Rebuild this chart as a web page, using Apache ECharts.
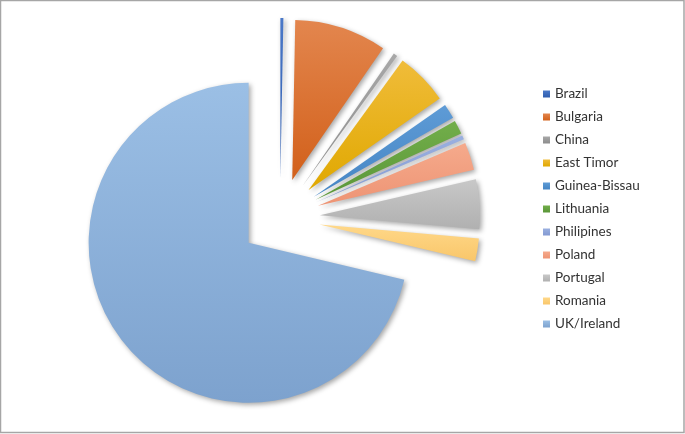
<!DOCTYPE html>
<html>
<head>
<meta charset="utf-8">
<script src="https://cdn.jsdelivr.net/npm/echarts@6/dist/echarts.min.js"></script>
<style>
html,body{margin:0;padding:0;background:#fff;}
#chart{width:685px;height:434px;}
</style>
</head>
<body>
<div id="chart"></div>
<script>
const categories = ['Brazil','Bulgaria','China','East Timor','Guinea-Bissau','Lithuania','Philipines','Poland','Portugal','Romania','UK/Ireland'];
const shares = [0.3, 9.3, 0.4, 5.3, 1.5, 1.4, 0.4, 2.8, 5.0, 2.3, 71.3];
const topColors = ['#4A78C8','#E3864E','#A8A8A8','#F0BC3A','#5E9BD6','#72AE4A','#9AB0E0','#F5AA8C','#C8C8C8','#FFD889','#9BBFE5'];
const bottomColors = ['#2F5DAE','#D2601A','#8C8C8C','#E0A800','#4585C4','#5A9638','#8399D2','#EE9474','#B0B0B0','#F9C66A','#7DA2CE'];

const chart = echarts.init(document.getElementById('chart'), null, {renderer:'canvas'});
const data = categories.map((name, i) => ({
  name: name,
  value: shares[i],
  selected: true,
  itemStyle: {
    color: new echarts.graphic.LinearGradient(0, 0, 0, 1, [
      {offset: 0, color: topColors[i]},
      {offset: 1, color: bottomColors[i]}
    ])
  }
}));

chart.setOption({
  animation: false,
  backgroundColor: '#ffffff',
  graphic: [{
    type: 'rect',
    shape: {x: 0.5, y: 0.5, width: 683.5, height: 432},
    style: {fill: 'none', stroke: '#A6A6A6', lineWidth: 1.5},
    silent: true
  }],
  legend: {
    orient: 'vertical',
    left: 538,
    top: 82,
    itemWidth: 7,
    itemHeight: 7,
    itemGap: 9,
    icon: 'rect',
    selectedMode: false,
    textStyle: {color: '#333333', fontSize: 13.5, fontFamily: 'Lato', lineHeight: 14},
    data: categories
  },
  series: [{
    type: 'pie',
    center: [280, 218],
    radius: 160,
    startAngle: 90,
    clockwise: true,
    selectedMode: 'multiple',
    selectedOffset: 40,
    label: {show: false},
    labelLine: {show: false},
    emphasis: {disabled: true},
    select: {itemStyle: {}},
    itemStyle: {
      shadowBlur: 5,
      shadowColor: 'rgba(0,0,0,0.35)',
      shadowOffsetX: 2,
      shadowOffsetY: 2
    },
    data: data
  }]
});
</script>
</body>
</html>
